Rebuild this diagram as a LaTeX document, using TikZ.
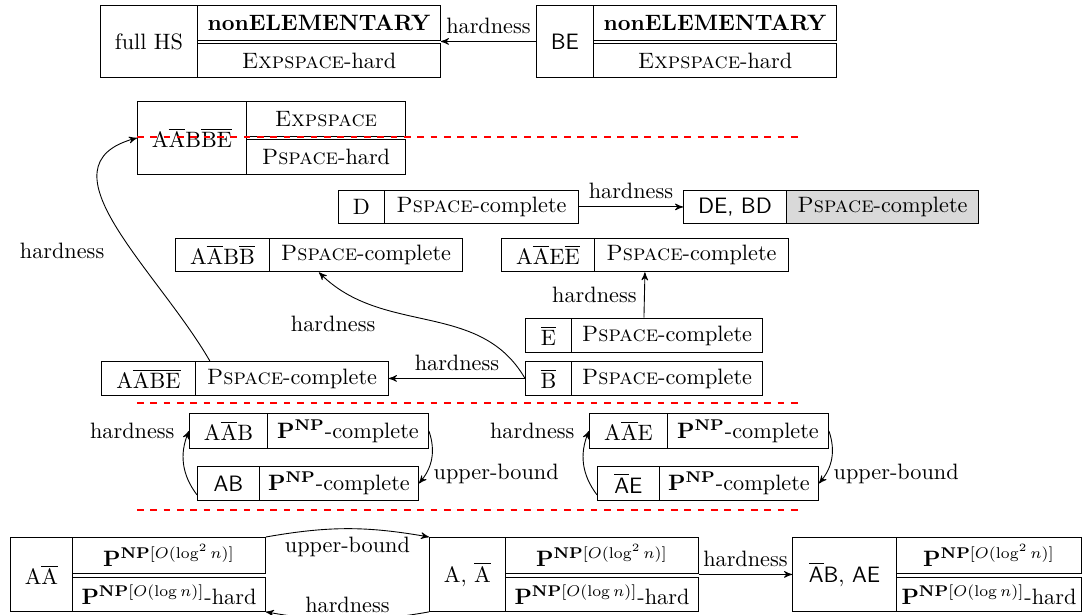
\documentclass[tikz,border=0pt]{standalone}
\usetikzlibrary{arrows, fit}
\newcommand{\pw}{0.158mm}
\tikzset{
  cellbox/.style 2 args={draw, anchor=north west, inner sep=0pt, minimum width=#1*\pw, minimum height=#2*\pw},
  sepline/.style={draw=red, dashed, semithick},
}
\begin{document}
\begin{tikzpicture}[x=0.158mm, y=-0.158mm, >=stealth']
\useasboundingbox (0,0) rectangle (1082,615);

% top row
\node[cellbox={97}{72}] (hs) at (100,5) {full HS};
\node[cellbox={243}{35}] (hsUp) at (197,5) {\textbf{nonELEMENTARY}};
\node[cellbox={243}{34}] (hsLo) at (197,43) {\textsc{Expspace}-hard};
\node[cellbox={57}{72}] (be) at (536,5) {\textsf{BE}};
\node[cellbox={243}{35}] (beUp) at (593,5) {\textbf{nonELEMENTARY}};
\node[cellbox={243}{34}] (beLo) at (593,43) {\textsc{Expspace}-hard};
\draw[->] (be.west) -- node[above] {hardness} (be.west -| hsUp.east);

% expspace block
\node[cellbox={109}{73}] (aabbe) at (137,101) {$\mathrm{A\overline{A}B\overline{B}\overline{E}}$};
\node[cellbox={159}{35}] (aabbeUp) at (246,101) {\textsc{Expspace}};
\node[cellbox={159}{35}] (aabbeLo) at (246,139) {\textsc{Pspace}-hard};

% pspace-complete boxes
\node[cellbox={46}{33}] (d) at (338,190) {D};
\node[cellbox={194}{33}] (dC) at (384,190) {\textsc{Pspace}-complete};
\node[cellbox={103}{33}] (debd) at (683,190) {\textsf{DE, BD}};
\node[cellbox={192}{33}, fill=gray!30] (debdC) at (786,190) {\textsc{Pspace}-complete};
\draw[->] (dC.east) -- node[above] {hardness} (debd.west);

\node[cellbox={94}{33}] (aabb) at (175,238) {$\mathrm{A\overline{A}B\overline{B}}$};
\node[cellbox={193}{33}] (aabbC) at (269,238) {\textsc{Pspace}-complete};
\node[fit=(aabb)(aabbC), inner sep=0pt] (aabbBox) {};
\node[cellbox={93}{33}] (aaee) at (501,238) {$\mathrm{A\overline{A}E\overline{E}}$};
\node[cellbox={194}{33}] (aaeeC) at (594,238) {\textsc{Pspace}-complete};
\node[fit=(aaee)(aaeeC), inner sep=0pt] (aaeeBox) {};

\node[cellbox={46}{34}] (ebar) at (525,318) {$\mathrm{\overline{E}}$};
\node[cellbox={191}{34}] (ebarC) at (571,318) {\textsc{Pspace}-complete};
\node[fit=(ebar)(ebarC), inner sep=0pt] (ebarBox) {};
\node[cellbox={46}{34}] (bbar) at (525,361) {$\mathrm{\overline{B}}$};
\node[cellbox={191}{34}] (bbarC) at (571,361) {\textsc{Pspace}-complete};
\node[cellbox={94}{34}] (aabe) at (101,361) {$\mathrm{A\overline{A}\overline{B}\overline{E}}$};
\node[cellbox={193}{34}] (aabeC) at (195,361) {\textsc{Pspace}-complete};

\draw[->] (ebarBox.north) -- node[left] {hardness} (aaeeBox.south);
\draw[->] (bbar.west) -- node[above] {hardness} (aabeC.east);
\draw[->] (bbar.west) to[out=120, in=-45] node[pos=0.7, below left] {hardness} (aabbBox.south);
\draw[->] (aabeC.168) to[out=120, in=-165, looseness=1.15] node[pos=0.4, left=9pt] {hardness} (aabbe.west);

% P^NP boxes
\node[cellbox={78}{35}] (aab) at (189,413) {$\mathrm{A\overline{A}B}$};
\node[cellbox={161}{35}] (aabC) at (267,413) {$\mathbf{P}^{\mathbf{NP}}$-complete};
\node[cellbox={62}{34}] (ab) at (197,466) {\textsf{AB}};
\node[cellbox={159}{34}] (abC) at (259,466) {$\mathbf{P}^{\mathbf{NP}}$-complete};
\draw[->] (ab.200) to[bend left] node[pos=1, left=3pt] {hardness} (aab.west);
\draw[->] (aabC.east) to[bend left] node[pos=0.8, right] {upper-bound} (abC.east);

\node[cellbox={78}{35}] (aae) at (589,413) {$\mathrm{A\overline{A}E}$};
\node[cellbox={161}{35}] (aaeC) at (667,413) {$\mathbf{P}^{\mathbf{NP}}$-complete};
\node[cellbox={62}{34}] (abare) at (597,466) {$\overline{\mathsf{A}}\mathsf{E}$};
\node[cellbox={159}{34}] (abareC) at (659,466) {$\mathbf{P}^{\mathbf{NP}}$-complete};
\draw[->] (abare.200) to[bend left] node[pos=1, left=3pt] {hardness} (aae.west);
\draw[->] (aaeC.east) to[bend left] node[pos=0.8, right] {upper-bound} (abareC.east);

% bottom row
\node[cellbox={62}{74}] (aa) at (10,537) {$\mathrm{A\overline{A}}$};
\node[cellbox={193}{36}] (aaUp) at (72,537) {$\mathbf{P}^{\mathbf{NP}[O(\log^2 n)]}$};
\node[cellbox={193}{34}] (aaLo) at (72,577) {$\mathbf{P}^{\mathbf{NP}[O(\log n)]}$-hard};
\node[cellbox={76}{74}] (abar) at (429,537) {A, $\mathrm{\overline{A}}$};
\node[cellbox={193}{36}] (abarUp) at (505,537) {$\mathbf{P}^{\mathbf{NP}[O(\log^2 n)]}$};
\node[cellbox={193}{34}] (abarLo) at (505,577) {$\mathbf{P}^{\mathbf{NP}[O(\log n)]}$-hard};
\node[cellbox={104}{74}] (abarb) at (792,537) {$\overline{\mathsf{A}}\mathsf{B}$, \textsf{AE}};
\node[cellbox={185}{36}] (abarbUp) at (896,537) {$\mathbf{P}^{\mathbf{NP}[O(\log^2 n)]}$};
\node[cellbox={185}{34}] (abarbLo) at (896,577) {$\mathbf{P}^{\mathbf{NP}[O(\log n)]}$-hard};

\draw[->] (aaUp.north east) to[bend left=10] node[below] {upper-bound} (abar.north west);
\draw[->] (abar.south west) to[bend left=10] node[above] {hardness} (aaLo.south east);
\draw[->] (abarb.west -| abarUp.east) -- node[above] {hardness} (abarb.west);

% separators
\foreach \y in {137,403,510}
\path[sepline] (137,\y) -- (800,\y);

\end{tikzpicture}
\end{document}
